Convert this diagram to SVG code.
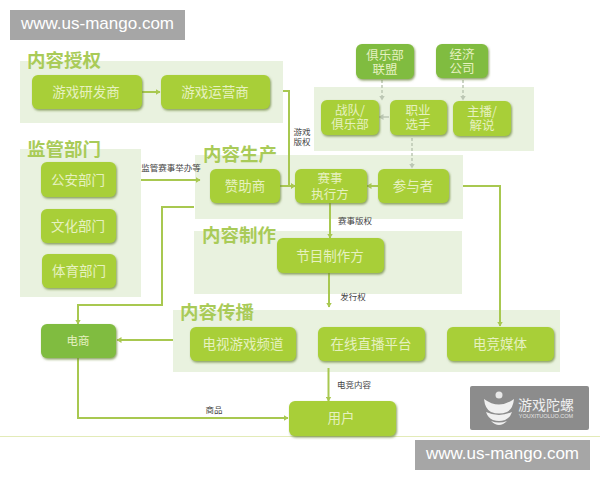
<svg xmlns="http://www.w3.org/2000/svg" width="600" height="480" viewBox="0 0 600 480">
<style>
text{font-family:"Noto Sans CJK SC","Liberation Sans",sans-serif;text-anchor:middle}
.panel{fill:#e9f2df}
.head{font-size:18.500px;font-weight:700;fill:#a9cb58;text-anchor:start}
.n rect{fill:#a8cf38;filter:url(#sh)}
.d rect{fill:#80bc40;filter:url(#sh)}
.n text,.d text{font-size:13.500px;fill:#e6f1c0}
.n text.two,.d text.two{font-size:12.500px}
.c{fill:none;stroke:#a8c850;stroke-width:2}
.g{fill:none;stroke:#bcc7b4;stroke-width:1.5;stroke-dasharray:3 2}
.l{font-size:8.500px;fill:#444}
.wm rect{fill:#a6a6a6}
.wm text{font-family:"Liberation Sans",sans-serif;font-size:17px;fill:#fff}
</style>
<defs>
<filter id="sh" x="-10%" y="-10%" width="125%" height="130%"><feDropShadow dx="1" dy="1.500" stdDeviation="0.800" flood-color="#6f8a40" flood-opacity="0.800"/></filter>
<marker id="a" markerWidth="6" markerHeight="6" refX="4.500" refY="3" orient="auto" markerUnits="userSpaceOnUse"><path d="M0 0L5 3L0 6z" fill="#a8c850"/></marker>
<marker id="b" markerWidth="6" markerHeight="6" refX="4.500" refY="3" orient="auto" markerUnits="userSpaceOnUse"><path d="M0 0L5 3L0 6z" fill="#bcc7b4"/></marker>
</defs>
<rect width="600" height="480" fill="#fff"/>
<rect class="panel" x="20" y="61" width="263" height="62"/>
<rect class="panel" x="20" y="149" width="121" height="148"/>
<rect class="panel" x="314" y="87" width="220" height="64"/>
<rect class="panel" x="195" y="155" width="268" height="64"/>
<rect class="panel" x="194" y="231" width="268" height="63"/>
<rect class="panel" x="173" y="310" width="387" height="62"/>
<path d="M0 436.500H600" stroke="#e3ebb8" stroke-width="1"/>
<text class="head" x="27" y="67">内容授权</text>
<text class="head" x="27" y="156">监管部门</text>
<text class="head" x="203" y="161">内容生产</text>
<text class="head" x="202" y="242">内容制作</text>
<text class="head" x="180" y="319">内容传播</text>
<g id="connectors">
<path class="c" marker-end="url(#a)" d="M142 92H160"/>
<path class="c" marker-end="url(#a)" d="M283 91H289V186H295"/>
<path class="c" marker-end="url(#a)" d="M280 186H295"/>
<path class="c" marker-end="url(#a)" d="M141 180H200"/>
<path class="c" marker-end="url(#a)" d="M194 207H162V305H78V324"/>
<path class="c" marker-end="url(#a)" d="M173 340H117"/>
<path class="c" marker-end="url(#a)" d="M78 358V418H288"/>
<path class="c" marker-end="url(#a)" d="M330 203V238"/>
<path class="c" marker-end="url(#a)" d="M329 273V307"/>
<path class="c" marker-end="url(#a)" d="M328.500 368V401"/>
<path class="c" marker-end="url(#a)" d="M378 186H367"/>
<path class="c" marker-end="url(#a)" d="M463 186H500V326"/>
<path class="g" marker-end="url(#b)" d="M382 80V100"/>
<path class="g" marker-end="url(#b)" d="M463 80V100"/>
<path class="g" marker-end="url(#b)" style="stroke-dasharray:none" d="M389 117H379"/>
<path class="g" marker-end="url(#b)" d="M412 138V168"/>
</g>
<text class="l" x="302" y="135"><tspan x="302">游戏</tspan><tspan x="302" dy="10">版权</tspan></text>
<text class="l" x="171" y="171">监管赛事举办等</text>
<text class="l" x="355" y="224">赛事版权</text>
<text class="l" x="353" y="300">发行权</text>
<text class="l" x="354" y="388">电竞内容</text>
<text class="l" x="214" y="413">商品</text>
<g id="n1" class="n"><rect x="32" y="75" width="110" height="34" rx="6"/><text x="86" y="97">游戏研发商</text></g>
<g id="n2" class="n"><rect x="161" y="75" width="109" height="34" rx="6"/><text x="215" y="97">游戏运营商</text></g>
<g id="n3" class="n"><rect x="41" y="162" width="75" height="35" rx="6"/><text x="78" y="185">公安部门</text></g>
<g id="n4" class="n"><rect x="41" y="209" width="75" height="34" rx="6"/><text x="78" y="231">文化部门</text></g>
<g id="n5" class="n"><rect x="42" y="254" width="74" height="34" rx="6"/><text x="79" y="276">体育部门</text></g>
<g id="n6" class="n"><rect x="210" y="169" width="70" height="34" rx="6"/><text x="245" y="191">赞助商</text></g>
<g id="n7" class="n"><rect x="295" y="169" width="72" height="34" rx="6"/><text class="two" x="330" y="183"><tspan x="330">赛事</tspan><tspan x="330" dy="15.500">执行方</tspan></text></g>
<g id="n8" class="n"><rect x="378" y="169" width="71" height="34" rx="6"/><text x="413" y="191">参与者</text></g>
<g id="n9" class="d"><rect x="356" y="44" width="58" height="35" rx="6"/><text class="two" x="385" y="60"><tspan x="385">俱乐部</tspan><tspan x="385" dy="14">联盟</tspan></text></g>
<g id="n10" class="d"><rect x="436" y="44" width="52" height="34" rx="6"/><text class="two" x="462" y="59"><tspan x="462">经济</tspan><tspan x="462" dy="14">公司</tspan></text></g>
<g id="n11" class="n"><rect x="321" y="100" width="58" height="35" rx="6"/><text class="two" x="350" y="115"><tspan x="350">战队/</tspan><tspan x="350" dy="14">俱乐部</tspan></text></g>
<g id="n12" class="n"><rect x="390" y="100" width="57" height="35" rx="6"/><text class="two" x="418" y="115"><tspan x="418">职业</tspan><tspan x="418" dy="14">选手</tspan></text></g>
<g id="n13" class="n"><rect x="453" y="101" width="58" height="35" rx="6"/><text class="two" x="482" y="116"><tspan x="482">主播/</tspan><tspan x="482" dy="14">解说</tspan></text></g>
<g id="n14" class="n"><rect x="277" y="238" width="107" height="35" rx="6"/><text x="330" y="261">节目制作方</text></g>
<g id="n15" class="n"><rect x="190" y="327" width="106" height="34" rx="6"/><text x="243" y="349">电视游戏频道</text></g>
<g id="n16" class="n"><rect x="318" y="327" width="107" height="34" rx="6"/><text x="371" y="349">在线直播平台</text></g>
<g id="n17" class="n"><rect x="447" y="327" width="107" height="34" rx="6"/><text x="500" y="349">电竞媒体</text></g>
<g id="n18" class="d"><rect x="41" y="324" width="75" height="34" rx="6"/><text x="78" y="345" style="font-size:11.500px">电商</text></g>
<g id="n19" class="n"><rect x="289" y="401" width="107" height="35" rx="6"/><text x="341" y="423">用户</text></g>
<g id="logo">
<rect x="470" y="386" width="119" height="44" rx="2" fill="#8c8c8c"/>
<circle cx="499" cy="395" r="3.500" fill="#e8e8e8"/>
<path d="M484 399Q499 410 514 399Q513 409 507 412Q499 415 491 412Q485 409 484 399z" fill="#f0f0f0"/>
<path d="M486 412Q499 418 512 412Q510 418 505 420Q499 422 493 420Q488 418 486 412z" fill="#f0f0f0"/>
<path d="M491 421Q499 424 507 421Q503 425 499 425Q495 425 491 421z" fill="#f0f0f0"/>
<text x="546" y="410" style="font-size:14px;fill:#efefef">游戏陀螺</text>
<text x="546" y="418" style="font-size:5.500px;fill:#e4e4e4;font-family:'Liberation Sans',sans-serif">YOUXITUOLUO.COM</text>
</g>
<g class="wm"><rect x="10" y="10" width="175" height="30"/><text x="97.500" y="29">www.us-mango.com</text></g>
<g class="wm"><rect x="415" y="440" width="175" height="30"/><text x="502.500" y="459">www.us-mango.com</text></g>
</svg>
